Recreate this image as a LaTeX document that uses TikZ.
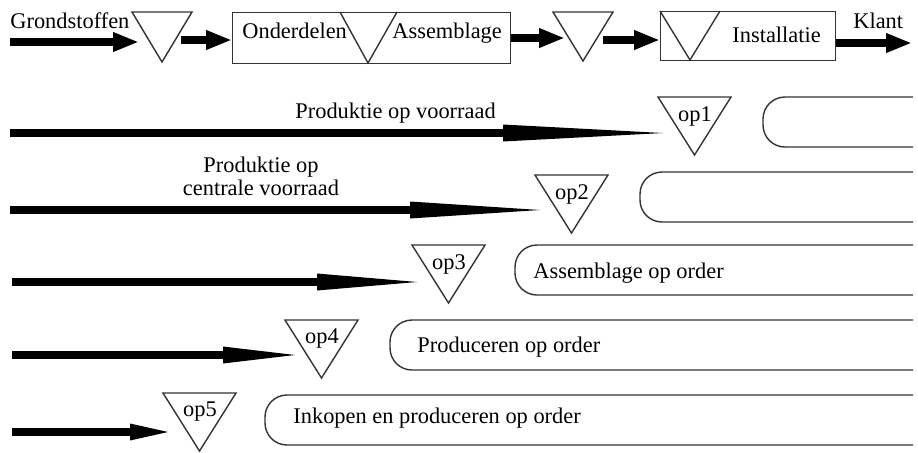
\documentclass[tikz,border=0pt]{standalone}
\usepackage{fontspec}
\setmainfont{Liberation Serif}
\usetikzlibrary{arrows.meta}

\tikzset{
    lijn/.style={line width=0.7pt, draw=black!80},
    pijl/.style={line width=4pt, -{Triangle[length=13pt, width=9pt]}},
    schacht/.style={line width=4pt},
    tekst/.style={font=\fontsize{11.2}{12}\selectfont, inner sep=0pt},
}

\begin{document}
\begin{tikzpicture}[x=0.5pt, y=-0.5pt]

    \useasboundingbox (0,0) rectangle (918,452);

    % Keten bovenaan
    \node[tekst, anchor=base west] (grond) at (10,28) {Grondstoffen};
    \draw[lijn] (132,12) -- (192,12) -- (162,62) -- cycle;
    \node[lijn, draw, anchor=north west, minimum width=139pt, minimum height=25.5pt, inner sep=0pt] (onder) at (232,12) {};
    \draw[lijn] (340,12) -- (368,63) -- (397,12);
    \node[tekst, anchor=base west] (ond) at (242,38) {Onderdelen};
    \node[tekst, anchor=base west] (ass) at (392,38) {Assemblage};
    \draw[lijn] (553,12) -- (613,12) -- (583,61) -- cycle;
    \node[lijn, draw, anchor=north west, minimum width=87.5pt, minimum height=24.5pt, inner sep=0pt] (inst) at (660,11) {};
    \draw[lijn] (660,11) -- (690,60) -- (720,11);
    \node[tekst, anchor=base west] (instal) at (732,42) {Installatie};
    \node[tekst, anchor=base west] (klant) at (853,28) {Klant};

    \coordinate (g0) at (10,42);
    \coordinate (g1) at (139,42);
    \coordinate (v1) at (181,40);
    \coordinate (v2) at (565,38);
    \coordinate (v3) at (603,40);
    \coordinate (k1) at (912,43);
    \draw[pijl] (g0) -- (g1);
    \draw[pijl] (v1) -- (onder.west |- v1);
    \draw[pijl] (onder.east |- v2) -- (v2);
    \draw[pijl] (v3) -- (inst.west |- v3);
    \draw[pijl] (inst.east |- k1) -- (k1);

    % Ontkoppelpunten op1 .. op5
    \foreach \i/\x/\y/\tip/\kop/\tx/\ty/\bx/\bt in {
        1/10/133/663/160/658/97/763/97,
        2/10/210/540/130/535/175/640/172,
        3/12/282/417/100/412/245/515/245,
        4/12/355/295/72/285/320/390/320,
        5/12/432/168/38/163/393/265/395} {
        \coordinate (start\i) at (\x,\y);
        \coordinate (tip\i) at (\tip,\y);
        \coordinate (kop\i) at (\tip-\kop,\y);
        \draw[schacht] (start\i) -- (kop\i);
        \fill (tip\i) -- (\tip-\kop,\y-8.5) -- (\tip-\kop,\y+8.5) -- cycle;
        \draw[lijn] (\tx,\ty) -- (\tx+73,\ty) -- (\tx+36.5,\ty+58) -- cycle;
        \node[tekst] (op\i) at (\tx+37,\ty+19) {op\i};
        \draw[lijn, rounded corners=11pt] (913,\bt) -- (\bx,\bt) -- (\bx,\bt+50) -- (913,\bt+50);
    }

    % Teksten
    \node[tekst, anchor=base west] (vr1) at (295,118) {Produktie op voorraad};
    \node[tekst, anchor=base] (vr2a) at (261,172) {Produktie op};
    \node[tekst, anchor=base] (vr2b) at (261,195) {centrale voorraad};
    \node[tekst, anchor=base west] (ord3) at (533,278) {Assemblage op order};
    \node[tekst, anchor=base west] (ord4) at (417,352) {Produceren op order};
    \node[tekst, anchor=base west] (ord5) at (293,423) {Inkopen en produceren op order};

\end{tikzpicture}
\end{document}
